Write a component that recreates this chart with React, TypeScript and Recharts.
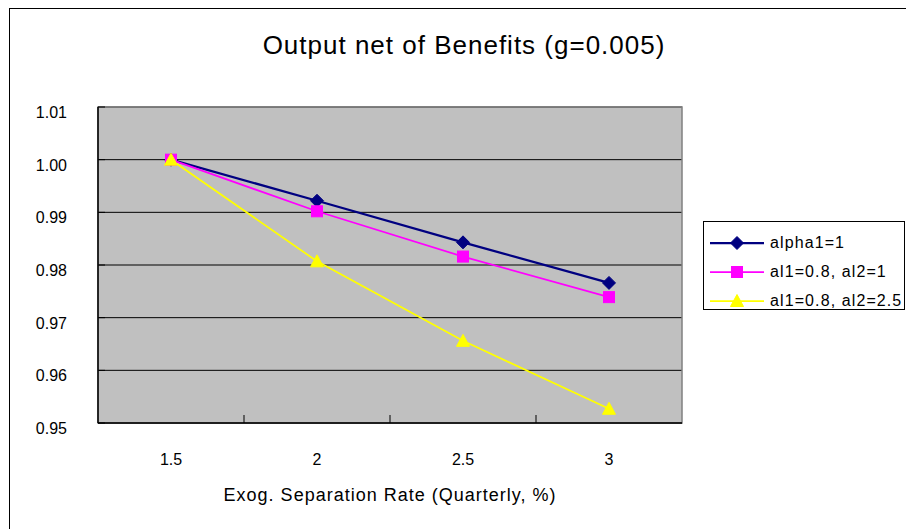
import React from 'react';
import { LineChart, Line, XAxis, YAxis, CartesianGrid, ReferenceArea, Legend } from 'recharts';

const categories = [1.5, 2, 2.5, 3];
const alpha1 = [1.0, 0.9922, 0.9843, 0.9766];
const al1al2_1 = [1.0, 0.9902, 0.9816, 0.9739];
const al1al2_25 = [1.0, 0.9807, 0.9656, 0.9527];
const yTicks = [0.95, 0.96, 0.97, 0.98, 0.99, 1.0, 1.01];
const xLabelTicks = [1.5, 2, 2.5, 3];
const xMarkTicks = [1.75, 2.25, 2.75];
const title = 'Output net of Benefits (g=0.005)';
const xTitle = 'Exog. Separation Rate (Quarterly, %)';

const series = [
  { key: 'a', name: 'alpha1=1', values: alpha1, color: '#000080', width: 2.25, marker: 'diamond' },
  { key: 'b', name: 'al1=0.8, al2=1', values: al1al2_1, color: '#FF00FF', width: 1.75, marker: 'square' },
  { key: 'c', name: 'al1=0.8, al2=2.5', values: al1al2_25, color: '#FFFF00', width: 1.75, marker: 'triangle' },
];

const data = categories.map((x, i) => {
  const row: any = { x };
  series.forEach((s) => (row[s.key] = s.values[i]));
  return row;
});

const FONT = '"Liberation Sans", Arial, sans-serif';

function Marker({ type, cx, cy, color }: any) {
  if (type === 'diamond') {
    return <polygon points={`${cx},${cy - 6.5} ${cx + 6.5},${cy} ${cx},${cy + 6.5} ${cx - 6.5},${cy}`} fill={color} stroke={color} />;
  }
  if (type === 'square') {
    return <rect x={cx - 5.5} y={cy - 5.5} width={11} height={11} fill={color} stroke={color} />;
  }
  return <polygon points={`${cx},${cy - 6.5} ${cx + 6.5},${cy + 5.5} ${cx - 6.5},${cy + 5.5}`} fill={color} stroke={color} />;
}

const makeDot = (type: string, color: string) => (props: any) => {
  const { cx, cy, index } = props;
  if (cx == null || cy == null) return <g key={`d-${type}-${index}`} />;
  return <Marker key={`d-${type}-${index}`} type={type} cx={cx} cy={cy} color={color} />;
};

const XTick = (props: any) => {
  const { x, y, payload } = props;
  const v = payload.value;
  if (xLabelTicks.includes(v)) {
    return (
      <text x={x} y={y} dy={42} textAnchor="middle" fontSize={16} fontFamily={FONT} fill="#000">
        {String(v)}
      </text>
    );
  }
  return <line x1={x} x2={x} y1={y} y2={y - 8} stroke="#000" strokeWidth={1} />;
};

const YTick = (props: any) => {
  const { x, y, payload } = props;
  return (
    <g>
      <line x1={x + 31} x2={x + 38} y1={y} y2={y} stroke="#000" strokeWidth={1} />
      <text x={x} y={y} dy={11} textAnchor="end" fontSize={16} fontFamily={FONT} fill="#000">
        {Number(payload.value).toFixed(2)}
      </text>
    </g>
  );
};

const LegendContent = () => (
  <div
    style={{
      width: 202,
      height: 89,
      border: '1px solid #000',
      background: '#fff',
      boxSizing: 'border-box',
      paddingTop: 6,
      fontFamily: FONT,
    }}
  >
    {series.map((s) => (
      <div key={s.key} style={{ display: 'flex', alignItems: 'center', height: 29 }}>
        <svg width={62} height={20} style={{ marginLeft: 4 }}>
          <line x1={2} x2={56} y1={10} y2={10} stroke={s.color} strokeWidth={s.width} />
          <Marker type={s.marker} cx={29} cy={10} color={s.color} />
        </svg>
        <span style={{ fontSize: 16, letterSpacing: 1.1, color: '#000', whiteSpace: 'nowrap' }}>{s.name}</span>
      </div>
    ))}
  </div>
);

export default function App() {
  return (
    <div style={{ position: 'absolute', left: 0, top: 0, width: 906, height: 529, background: '#fff', overflow: 'hidden' }}>
      <div
        style={{
          position: 'absolute',
          left: 9,
          top: 8,
          width: 910,
          height: 530,
          borderTop: '1px solid #000',
          borderLeft: '1px solid #000',
        }}
      />
      <div
        style={{
          position: 'absolute',
          left: 0,
          top: 30,
          width: 928,
          height: 30,
          lineHeight: '30px',
          textAlign: 'center',
          fontSize: 26,
          letterSpacing: 1,
          fontFamily: FONT,
          color: '#000',
        }}
      >
        {title}
      </div>
      <div style={{ position: 'absolute', left: 0, top: 0 }}>
        <LineChart width={906} height={529} data={data} margin={{ top: 107, right: 224, bottom: 0, left: 0 }}>
          <CartesianGrid vertical={false} stroke="#000" strokeOpacity={1} fill="#C0C0C0" fillOpacity={1} />
          <ReferenceArea x1={1.25} x2={3.25} y1={0.95} y2={1.01} fill="none" stroke="#808080" strokeWidth={1.5} />
          <XAxis
            dataKey="x"
            type="number"
            domain={[1.25, 3.25]}
            ticks={[1.5, 1.75, 2, 2.25, 2.5, 2.75, 3]}
            interval={0}
            height={106}
            tickSize={0}
            tickMargin={0}
            tickLine={false}
            axisLine={{ stroke: '#000', strokeWidth: 1.5 }}
            tick={<XTick />}
            allowDataOverflow
            label={{
              value: xTitle,
              position: 'insideBottom',
              offset: 28,
              style: { fontSize: 18, letterSpacing: 1, fontFamily: FONT, fill: '#000' },
            }}
          />
          <YAxis
            type="number"
            domain={[0.95, 1.01]}
            ticks={yTicks}
            interval={0}
            width={98}
            tickSize={0}
            tickMargin={31}
            tickLine={false}
            axisLine={{ stroke: '#000', strokeWidth: 1.5 }}
            tick={<YTick />}
            allowDataOverflow
          />
          <Legend
            layout="horizontal"
            verticalAlign="middle"
            align="center"
            content={<LegendContent />}
            wrapperStyle={{ left: 703, top: 221, width: 202, height: 89 }}
          />
          {series.map((s) => (
            <Line
              key={s.key}
              dataKey={s.key}
              name={s.name}
              type="linear"
              stroke={s.color}
              strokeWidth={s.width}
              dot={makeDot(s.marker, s.color)}
              activeDot={false}
              isAnimationActive={false}
              legendType="none"
            />
          ))}
        </LineChart>
      </div>
    </div>
  );
}
